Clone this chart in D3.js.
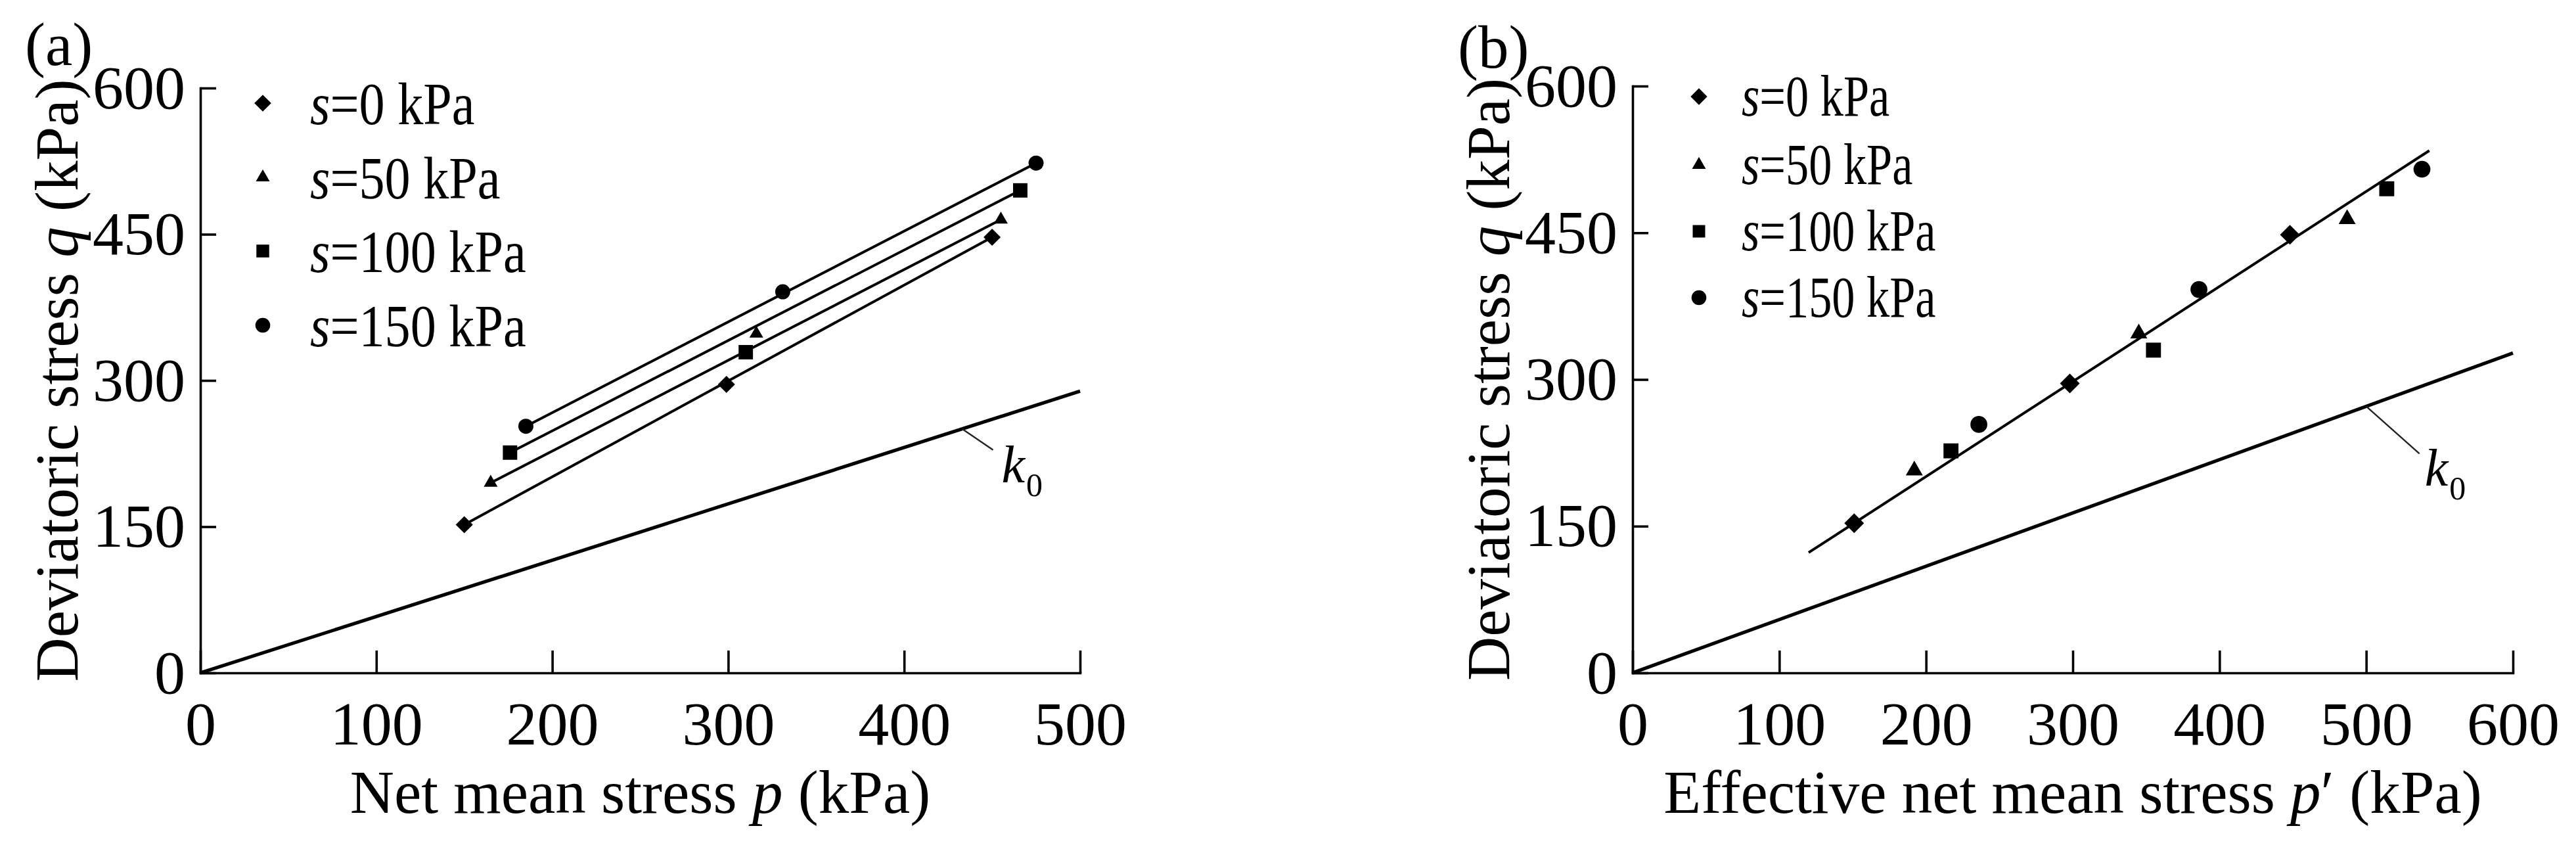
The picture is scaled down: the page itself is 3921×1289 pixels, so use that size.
<!DOCTYPE html>
<html>
<head>
<meta charset="utf-8">
<script src="https://cdn.jsdelivr.net/npm/d3@7"></script>
<style>
  html, body { margin: 0; padding: 0; background: #fff; }
  svg { display: block; }
</style>
</head>
<body>
<div id="chart"></div>
<script>
// ---- data ----
const suctions = [0, 50, 100, 150];               // s (kPa), one series each
const yTicks = [0, 150, 300, 450, 600];
const xTicksA = [0, 100, 200, 300, 400, 500];
const xTicksB = [0, 100, 200, 300, 400, 500, 600];

// (a) net mean stress p vs q
const netP = [
  [150, 299, 450],
  [165, 316, 455],
  [176, 310, 466],
  [185, 331, 475]
];
const netQ = [
  [152, 296, 447],
  [195, 348, 465],
  [226, 329, 495],
  [253, 391, 523]
];
const k0A_p = [0, 500];
const k0A_q = [0, 289];

// (b) effective net mean stress p' vs q
const effP = [
  [151, 298, 448],
  [192, 345, 487],
  [217, 355, 514],
  [236, 386, 538]
];
const effQ = [
  [153, 296, 448],
  [207, 347, 464],
  [227, 330, 495],
  [254, 392, 515]
];
const fitB_p = [120, 543];
const fitB_q = [123, 534];
const k0B_p = [0, 600];
const k0B_q = [0, 327];

// ---- drawing ----
const W = 3921, H = 1289;
const font = '"Liberation Serif", "Times New Roman", serif';
const ink = '#000';

const svg = d3.select('#chart').append('svg')
  .attr('xmlns', 'http://www.w3.org/2000/svg')
  .attr('width', W)
  .attr('height', H)
  .style('background', '#fff');

const diamond = {
  draw(ctx, size) {
    const r = Math.sqrt(size / 2);
    ctx.moveTo(0, -r); ctx.lineTo(r, 0); ctx.lineTo(0, r); ctx.lineTo(-r, 0); ctx.closePath();
  }
};
const symbolTypes = [diamond, d3.symbolTriangle, d3.symbolSquare, d3.symbolCircle];

function drawPanel(cfg) {
  const x = d3.scaleLinear().domain([0, d3.max(cfg.xTicks)]).range(cfg.xRange);
  const y = d3.scaleLinear().domain([0, 600]).range(cfg.yRange);
  const line = d3.line().x(d => x(d[0])).y(d => y(d[1]));

  // axes, ticks pointing inward
  const gx = svg.append('g')
    .attr('transform', `translate(0,${cfg.yRange[0]})`)
    .call(d3.axisBottom(x).tickValues(cfg.xTicks).tickSizeInner(-34).tickSizeOuter(0).tickPadding(42));
  const gy = svg.append('g')
    .attr('transform', `translate(${cfg.xRange[0]},0)`)
    .call(d3.axisLeft(y).tickValues(yTicks).tickSizeInner(-24).tickSizeOuter(0).tickPadding(23));
  [gx, gy].forEach(g => {
    g.attr('font-family', font).attr('font-size', 94);
    g.select('.domain').attr('stroke', ink).attr('stroke-width', 3.6).attr('stroke-linecap', 'square');
    g.selectAll('.tick line').attr('stroke', ink).attr('stroke-width', 3.6);
    g.selectAll('.tick text').attr('fill', ink);
  });

  // k0 line
  svg.append('path')
    .attr('d', line(cfg.k0p.map((v, i) => [v, cfg.k0q[i]])))
    .attr('fill', 'none').attr('stroke', ink).attr('stroke-width', 5.2);

  // fitted lines
  cfg.fitLines.forEach(pts => {
    svg.append('path')
      .attr('d', line(pts))
      .attr('fill', 'none').attr('stroke', ink).attr('stroke-width', 4);
  });

  // markers
  cfg.P.forEach((ps, i) => {
    svg.append('g').selectAll('path')
      .data(ps.map((v, j) => [v, cfg.Q[i][j]]))
      .join('path')
      .attr('transform', d => `translate(${x(d[0])},${y(d[1])})`)
      .attr('d', d3.symbol(symbolTypes[i], cfg.markerSizes[i]))
      .attr('fill', ink);
  });

  // k0 leader + label
  const slope = cfg.k0q[1] / cfg.k0p[1];
  const ax = x(cfg.k0Anchor), ay = y(cfg.k0Anchor * slope);
  const ex = ax + cfg.leader[0], ey = ay + cfg.leader[1];
  svg.append('line')
    .attr('x1', ax).attr('y1', ay).attr('x2', ex).attr('y2', ey)
    .attr('stroke', '#222').attr('stroke-width', 2.4);
  const kt = svg.append('text')
    .attr('x', ex + cfg.kOffset[0]).attr('y', ey + cfg.kOffset[1])
    .attr('font-family', font).attr('font-size', 80).attr('fill', ink);
  kt.append('tspan').attr('font-style', 'italic').text('k');
  kt.append('tspan').attr('dy', 21).attr('dx', 2).attr('font-size', 50).text('0');

  // legend
  suctions.forEach((s, i) => {
    const cy = cfg.legend.y[i];
    svg.append('path')
      .attr('transform', `translate(${cfg.legend.mx},${cy})`)
      .attr('d', d3.symbol(symbolTypes[i], cfg.legend.sizes[i]))
      .attr('fill', ink);
    const t = svg.append('text')
      .attr('transform', `translate(${cfg.legend.tx},${cy + cfg.legend.base}) scale(${cfg.legend.sx},1)`)
      .attr('font-family', font).attr('font-size', cfg.legend.fs).attr('fill', ink);
    t.append('tspan').attr('font-style', 'italic').text('s');
    t.append('tspan').text(`=${s} kPa`);
  });

  // axis titles
  const yt = svg.append('text')
    .attr('transform', `translate(${cfg.yTitleX},${(cfg.yRange[0] + cfg.yRange[1]) / 2}) rotate(-90)`)
    .attr('text-anchor', 'middle')
    .attr('font-family', font).attr('font-size', 93).attr('fill', ink);
  yt.append('tspan').text('Deviatoric stress ');
  yt.append('tspan').attr('font-style', 'italic').text('q');
  yt.append('tspan').text(' (kPa)');

  const xt = svg.append('text')
    .attr('x', (cfg.xRange[0] + cfg.xRange[1]) / 2).attr('y', 1237)
    .attr('text-anchor', 'middle')
    .attr('font-family', font).attr('font-size', 93).attr('fill', ink);
  xt.append('tspan').text(cfg.xTitle);
  xt.append('tspan').attr('font-style', 'italic').text('p');
  xt.append('tspan').text(cfg.xTitleTail);

  svg.append('text')
    .attr('x', cfg.tag[0]).attr('y', cfg.tag[1])
    .attr('font-family', font).attr('font-size', 93).attr('fill', ink)
    .text(cfg.tagText);
}

drawPanel({
  xTicks: xTicksA,
  xRange: [305, 1644],
  yRange: [1024, 134],
  P: netP,
  Q: netQ,
  fitLines: netP.map((ps, i) => [[ps[0], netQ[i][0]], [ps[ps.length - 1], netQ[i][ps.length - 1]]]),
  k0p: k0A_p,
  k0q: k0A_q,
  k0Anchor: 433,
  leader: [47, 32],
  kOffset: [13, 49],
  markerSizes: [340, 191, 480, 415],
  legend: { mx: 400, tx: 472, y: [157, 270, 382, 495], base: 32, fs: 92, sx: 0.85, sizes: [330, 191, 380, 400] },
  yTitleX: 118,
  xTitle: 'Net mean stress ',
  xTitleTail: ' (kPa)',
  tag: [38, 99],
  tagText: '(a)'
});

drawPanel({
  xTicks: xTicksB,
  xRange: [2485, 3825],
  yRange: [1024, 131],
  P: effP,
  Q: effQ,
  fitLines: [fitB_p.map((v, i) => [v, fitB_q[i]])],
  k0p: k0B_p,
  k0q: k0B_q,
  k0Anchor: 500,
  leader: [81, 72],
  kOffset: [8, 49],
  markerSizes: [450, 290, 520, 520],
  legend: { mx: 2586, tx: 2651, y: [147, 251, 352, 453], base: 29, fs: 89, sx: 0.79, sizes: [320, 191, 360, 400] },
  yTitleX: 2297,
  xTitle: 'Effective net mean stress ',
  xTitleTail: '\u2032 (kPa)',
  tag: [2219, 103],
  tagText: '(b)'
});
</script>
</body>
</html>
